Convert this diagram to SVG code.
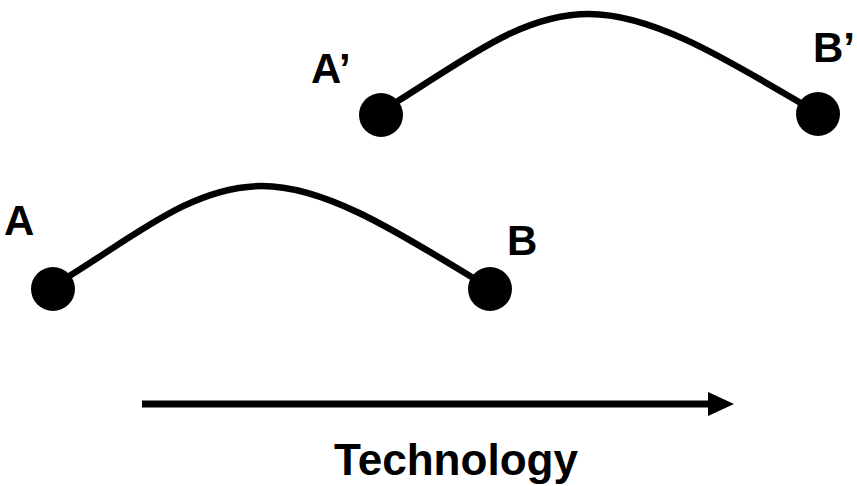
<svg xmlns="http://www.w3.org/2000/svg" width="857" height="486" viewBox="0 0 857 486">
<style>
.lbl{font-family:"Liberation Sans",Arial,sans-serif;font-weight:bold;fill:#000}
.node{font-size:42px}
.curve{fill:none;stroke:#000;stroke-width:6.5}
.dot{fill:#000}
</style>
<defs>
<marker id="ah" markerUnits="userSpaceOnUse" markerWidth="26" markerHeight="26" refX="0" refY="12" orient="auto">
<path d="M0,0 L26,12 L0,24 Z" fill="#000"/>
</marker>
</defs>
<rect width="857" height="486" fill="#fff"/>
<g id="connectors">
<path class="curve" d="M58,283 C130,240 190,186 262,186 C330,186 410,240 488,287"/>
<path class="curve" d="M385,109 C457,66 517,14 589,14 C657,14 737,66 816,112"/>
<line x1="142" y1="404" x2="708" y2="404" stroke="#000" stroke-width="7" marker-end="url(#ah)"/>
</g>
<g id="A"><circle class="dot" cx="53" cy="289" r="22"/><text class="lbl node" x="4" y="235">A</text></g>
<g id="B"><circle class="dot" cx="490" cy="289" r="22"/><text class="lbl node" x="507" y="255">B</text></g>
<g id="A2"><circle class="dot" cx="381" cy="115" r="22"/><text class="lbl node" x="311" y="83">A’</text></g>
<g id="B2"><circle class="dot" cx="818" cy="114" r="22"/><text class="lbl node" x="813" y="62">B’</text></g>
<g id="tech"><text class="lbl" x="334" y="475" font-size="45" textLength="244" lengthAdjust="spacingAndGlyphs">Technology</text></g>
</svg>
